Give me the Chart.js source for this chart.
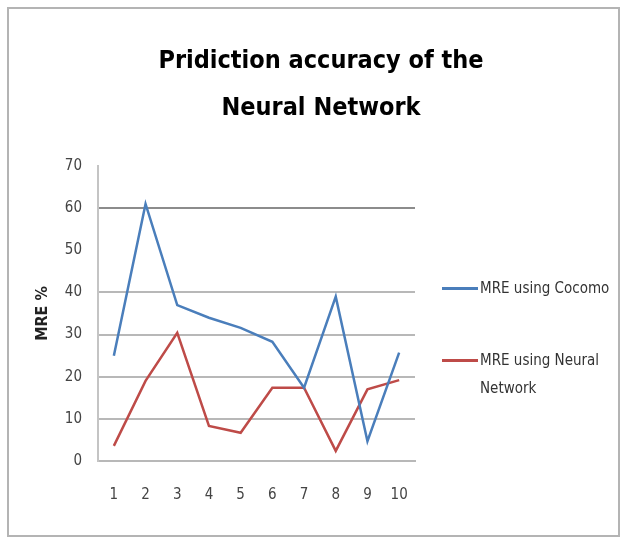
<!DOCTYPE html>
<html lang="en">
<head>
  <meta charset="UTF-8">
  <title>Pridiction accuracy of the Neural Network</title>
  <script src="https://cdn.jsdelivr.net/npm/chart.js"></script>
  <style>
    body {
      margin: 0;
      background: white;
      font-family: "DejaVu Sans Condensed", "Liberation Sans", sans-serif;
    }
    .frame {
      position: absolute;
      left: 7px;
      top: 7px;
      width: 609px;
      height: 526px;
      border: 2px solid #b4b4b4;
    }
    .chart-box {
      position: absolute;
      left: 0;
      top: 0;
      width: 625px;
      height: 538px;
    }
    .title {
      position: absolute;
      left: 121px;
      width: 400px;
      top: 36px;
      text-align: center;
      font-size: 25px;
      font-weight: bold;
      line-height: 47px;
      color: #000;
    }
    .legend {
      position: absolute;
      left: 442px;
      color: #333;
      font-size: 15px;
    }
    .legend-item {
      position: absolute;
      left: 0;
      width: 180px;
    }
    .legend-item span.swatch {
      position: absolute;
      left: 0;
      width: 36px;
      height: 3px;
    }
    .legend-item span.text {
      position: absolute;
      left: 38px;
      width: 140px;
      line-height: 28px;
    }
  </style>
</head>
<body>
  <div class="frame"></div>
  <div class="chart-box"><canvas id="mreChart" width="625" height="538"></canvas></div>
  <div class="title" id="title"></div>
  <div class="legend" id="legend"></div>

  <script>
    // values
    const runs = ['1', '2', '3', '4', '5', '6', '7', '8', '9', '10'];
    const cocomoMRE = [25, 61, 37, 34, 31.6, 28.3, 17.4, 39, 4.7, 25.7];
    const neuralMRE = [3.6, 19, 30.4, 8.3, 6.7, 17.4, 17.4, 2.4, 17, 19.2];
    const seriesNames = ['MRE using Cocomo', 'MRE using Neural Network'];
    const seriesColors = ['#4a7ebb', '#be4b48'];
    const titleLines = ['Pridiction accuracy of the', 'Neural Network'];

    const fontName = "'DejaVu Sans Condensed', 'Liberation Sans', sans-serif";

    document.getElementById('title').innerHTML = titleLines.join('<br>');

    const data = {
      labels: runs,
      datasets: [{
        label: seriesNames[0],
        data: cocomoMRE,
        borderColor: seriesColors[0],
        borderWidth: 2.5,
        pointRadius: 0,
        tension: 0
      }, {
        label: seriesNames[1],
        data: neuralMRE,
        borderColor: seriesColors[1],
        borderWidth: 2.5,
        pointRadius: 0,
        tension: 0
      }]
    };

    // which horizontal lines show up in the original
    function gridColor(ctx) {
      const v = ctx.tick ? ctx.tick.value : null;
      if (v === 60) return '#8c8c8c';
      if (v === 10 || v === 20 || v === 30 || v === 40) return '#b8b8b8';
      return 'rgba(0,0,0,0)';
    }

    const chart = new Chart(document.getElementById('mreChart'), {
      type: 'line',
      data: data,
      options: {
        responsive: false,
        animation: false,
        layout: {
          padding: { left: 0, right: 210, top: 166, bottom: 9 }
        },
        plugins: {
          legend: { display: false },
          tooltip: { enabled: false },
          title: { display: false }
        },
        scales: {
          x: {
            offset: true,
            grid: { display: false, drawTicks: false, offset: false },
            border: { display: true, color: '#b8b8b8', width: 2 },
            ticks: {
              color: '#444',
              padding: 25,
              font: { family: fontName, size: 15 }
            }
          },
          y: {
            min: 0,
            max: 70,
            afterFit: function (scale) { scale.width = 98; },
            grid: { color: gridColor, lineWidth: 2, drawTicks: false },
            border: { display: true, color: '#c4c4c4', width: 2 },
            ticks: {
              stepSize: 10,
              color: '#444',
              padding: 16,
              font: { family: fontName, size: 15 }
            },
            title: {
              display: true,
              text: 'MRE %',
              color: '#222',
              font: { family: fontName, size: 16, weight: 'bold' },
              padding: { top: 33, bottom: 0 }
            }
          }
        }
      }
    });

    // legend on the right, built from the datasets
    const legend = document.getElementById('legend');
    const legendTops = [288, 360];
    chart.data.datasets.forEach(function (ds, i) {
      const item = document.createElement('div');
      item.className = 'legend-item';
      item.style.top = legendTops[i] + 'px';
      item.innerHTML = '<span class="swatch" style="background:' + ds.borderColor + ';top:-1px"></span>' +
        '<span class="text" style="top:-14px">' + ds.label + '</span>';
      legend.appendChild(item);
    });
  </script>
</body>
</html>
